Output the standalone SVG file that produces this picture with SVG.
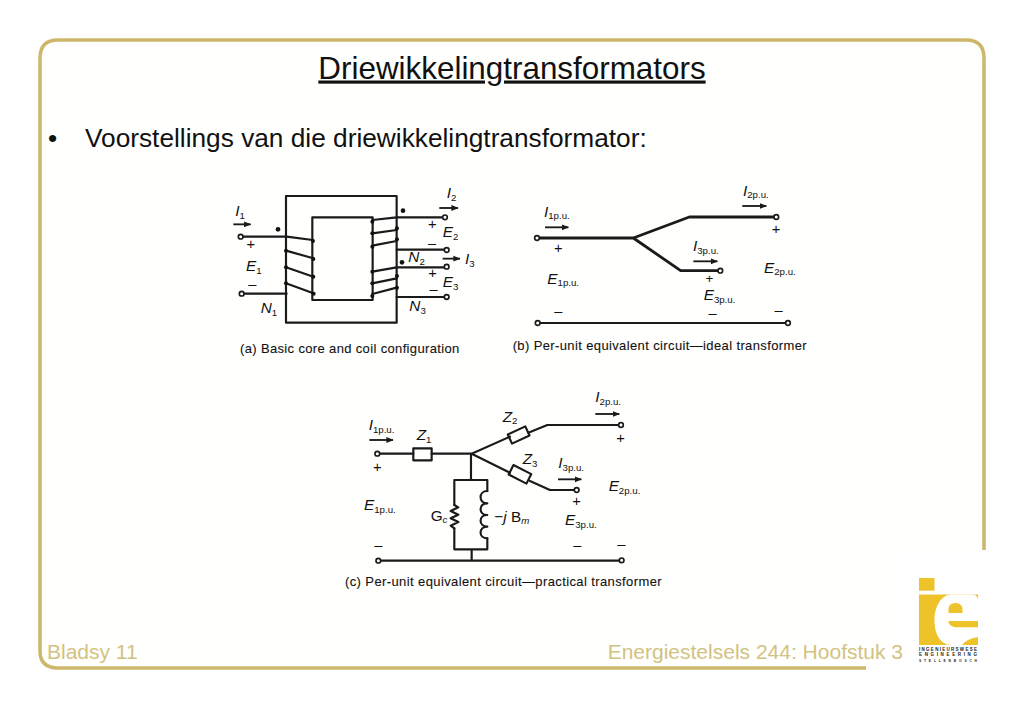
<svg xmlns="http://www.w3.org/2000/svg" width="1023" height="708" viewBox="0 0 1023 708">
<style>
text{font-family:"Liberation Sans",Arial,sans-serif;fill:#111}
.w{fill:none;stroke:#1a1a1a;stroke-width:6.500;stroke-linejoin:round;stroke-linecap:round}
.h{fill:none;stroke:#1a1a1a;stroke-width:8.500;stroke-linejoin:round}
.t{fill:#fff;stroke:#1a1a1a;stroke-width:5}
.a{fill:none;stroke:#1a1a1a;stroke-width:5.500;marker-end:url(#ah)}
.l{font-size:46px;font-style:italic}
.s{font-size:29px;font-style:normal}
.m{font-size:44px}
.c{font-size:39px;stroke:#111;stroke-width:.3}
.f{font-size:21px;fill:#d2c282}
.y{fill:#eec32a}
.k{font-weight:bold;fill:#222}
</style>
<defs>
<marker id="ah" viewBox="0 0 10 10" refX="9" refY="5" markerWidth="4" markerHeight="4" orient="auto"><path d="M0 1L10 5L0 9z" fill="#1a1a1a"/></marker>
</defs>
<rect width="1023" height="708" fill="#fff"/>
<g id="frame">
<path d="M984 550V58Q984 40 966 40H58Q40 40 40 58V651Q40 668 58 668H866" fill="#fffffd" stroke="#cdb76b" stroke-width="3.500"/>
<rect x="905" y="551" width="118" height="130" fill="#fff"/>
</g>
<g id="title"><text x="512" y="78.500" text-anchor="middle" font-size="31.400" style="text-decoration:underline">Driewikkelingtransformators</text></g>
<g id="bullet"><text x="48" y="147" font-size="26.250">•</text><text x="85" y="147" font-size="26.250">Voorstellings van die driewikkelingtransformator:</text></g>

<g id="fig-a" transform="translate(220 180) scale(.3333)">
<g id="core-a"><rect x="198" y="48" width="332" height="380" class="w"/><rect x="277" y="112" width="181" height="248" class="w"/></g>
<g id="coils-a" class="connectors">
<path class="w" d="M68 170H200L278 180M198 212L280 235M198 262L280 290M198 310L280 340M72 341H200"/>
<path class="w" d="M457 120L530 112H668M457 160L530 150M457 197L530 183M530 209H674M457 275L530 262H674M457 310L530 295M457 342L530 323M530 351H674"/>
<g fill="#111"><circle cx="174" cy="148" r="7"/><circle cx="549" cy="92" r="7"/><circle cx="546" cy="247" r="7"/><circle cx="198" cy="212" r="6"/><circle cx="198" cy="262" r="6"/><circle cx="198" cy="310" r="6"/><circle cx="279" cy="183" r="6"/><circle cx="280" cy="237" r="6"/><circle cx="280" cy="290" r="6"/><circle cx="281" cy="341" r="6"/><circle cx="457" cy="125" r="6"/><circle cx="457" cy="160" r="6"/><circle cx="457" cy="200" r="6"/><circle cx="457" cy="275" r="6"/><circle cx="457" cy="310" r="6"/><circle cx="457" cy="348" r="6"/><circle cx="531" cy="145" r="6"/><circle cx="531" cy="178" r="6"/><circle cx="531" cy="288" r="6"/><circle cx="531" cy="323" r="6"/></g>
<circle class="t" cx="62" cy="170" r="7"/><circle class="t" cx="65" cy="341" r="7"/><circle class="t" cx="675" cy="112" r="7"/><circle class="t" cx="680" cy="210" r="7"/><circle class="t" cx="680" cy="260" r="7"/><circle class="t" cx="680" cy="351" r="7"/>
<path class="a" d="M40 133H92"/><path class="a" d="M658 84H714"/><path class="a" d="M668 236H720"/>
</g>
<g id="labels-a">
<text class="l" x="46" y="108">I<tspan class="s" dy="8">1</tspan></text>
<text class="l" x="78" y="274">E<tspan class="s" dy="8">1</tspan></text>
<text class="l" x="122" y="400">N<tspan class="s" dy="8">1</tspan></text>
<text class="l" x="680" y="54">I<tspan class="s" dy="8">2</tspan></text>
<text class="l" x="668" y="172">E<tspan class="s" dy="8">2</tspan></text>
<text class="l" x="565" y="247">N<tspan class="s" dy="8">2</tspan></text>
<text class="l" x="735" y="252">I<tspan class="s" dy="8">3</tspan></text>
<text class="l" x="668" y="322">E<tspan class="s" dy="8">3</tspan></text>
<text class="l" x="568" y="394">N<tspan class="s" dy="8">3</tspan></text>
<text class="m" x="92" y="206" text-anchor="middle">+</text><text class="m" x="637" y="146" text-anchor="middle">+</text><text class="m" x="638" y="294" text-anchor="middle">+</text>
<text class="m" x="97" y="328" text-anchor="middle">–</text><text class="m" x="636" y="203" text-anchor="middle">–</text><text class="m" x="641" y="341" text-anchor="middle">–</text>
<text class="c" x="60" y="518" textLength="658">(a)  Basic core and coil configuration</text>
</g>
</g>

<g id="fig-b" transform="translate(500 175) scale(.3333)">
<g id="wires-b" class="connectors">
<path class="h" d="M117 189H400L568 126H822M400 189L542 287H654"/>
<path class="w" d="M119 444H858"/>
<circle class="t" cx="111" cy="189" r="7"/><circle class="t" cx="829" cy="126" r="7"/><circle class="t" cx="661" cy="287" r="7"/><circle class="t" cx="113" cy="444" r="7"/><circle class="t" cx="864" cy="444" r="7"/>
<path class="a" d="M135 157H205"/><path class="a" d="M727 93H799"/><path class="a" d="M580 259H652"/>
</g>
<g id="labels-b">
<text class="l" x="132" y="125">I<tspan class="s" dy="8">1p.u.</tspan></text>
<text class="l" x="729" y="62">I<tspan class="s" dy="8">2p.u.</tspan></text>
<text class="l" x="579" y="228">I<tspan class="s" dy="8">3p.u.</tspan></text>
<text class="l" x="142" y="326">E<tspan class="s" dy="8">1p.u.</tspan></text>
<text class="l" x="792" y="293">E<tspan class="s" dy="8">2p.u.</tspan></text>
<text class="l" x="611" y="376">E<tspan class="s" dy="8">3p.u.</tspan></text>
<text class="m" x="175" y="234" text-anchor="middle">+</text><text class="m" x="828" y="176" text-anchor="middle">+</text><text class="m" x="628" y="325" text-anchor="middle" style="font-size:40px">+</text>
<text class="m" x="175" y="423" text-anchor="middle">–</text><text class="m" x="638" y="429" text-anchor="middle">–</text><text class="m" x="836" y="419" text-anchor="middle">–</text>
<text class="c" x="38" y="525" textLength="882">(b)  Per-unit equivalent circuit—ideal transformer</text>
</g>
</g>

<g id="fig-c" transform="translate(330 385) scale(.3333)">
<g id="wires-c" class="connectors">
<path class="w" d="M149 206H250M305 206H425L540 155M595 143L652 120H866M425 206L540 263M600 288L660 315H733M423 206V285"/>
<path class="w" d="M373 360V285H472V318M472 460V493H373V430M425 493V526M151 527H869"/>
<path class="w" d="M373 360L385 367L362 378L385 389L362 400L385 411L362 422L373 430"/>
<path class="w" d="M472 318C445 318 445 355 472 355C445 355 445 390 472 390C445 390 445 425 472 425C445 425 445 460 472 460"/>
<circle class="t" cx="142" cy="206" r="7"/><circle class="t" cx="873" cy="120" r="7"/><circle class="t" cx="740" cy="315" r="7"/><circle class="t" cx="145" cy="527" r="7"/><circle class="t" cx="875" cy="526" r="7"/>
<path class="a" d="M118 165H189"/><path class="a" d="M796 87H868"/><path class="a" d="M684 283H754"/>
</g>
<g id="Z1"><rect class="w" x="250" y="190" width="55" height="36"/></g>
<g id="Z2"><rect class="w" x="-29" y="-15" width="58" height="30" transform="translate(566 150) rotate(-25)"/></g>
<g id="Z3"><rect class="w" x="-30" y="-16" width="60" height="32" transform="translate(570 268) rotate(27)"/></g>
<g id="labels-c">
<text class="l" x="116" y="135">I<tspan class="s" dy="8">1p.u.</tspan></text>
<text class="l" x="796" y="52">I<tspan class="s" dy="8">2p.u.</tspan></text>
<text class="l" x="685" y="250">I<tspan class="s" dy="8">3p.u.</tspan></text>
<text class="l" x="260" y="165">Z<tspan class="s" dy="8">1</tspan></text>
<text class="l" x="518" y="110">Z<tspan class="s" dy="8">2</tspan></text>
<text class="l" x="578" y="238">Z<tspan class="s" dy="8">3</tspan></text>
<text class="l" x="102" y="376">E<tspan class="s" dy="8">1p.u.</tspan></text>
<text class="l" x="836" y="318">E<tspan class="s" dy="8">2p.u.</tspan></text>
<text class="l" x="705" y="420">E<tspan class="s" dy="8">3p.u.</tspan></text>
<text class="l" x="302" y="407" style="font-style:normal">G<tspan class="s" dy="6" style="font-style:italic">c</tspan></text>
<text class="l" x="493" y="410"><tspan style="font-style:normal">−</tspan>j <tspan style="font-style:normal">B</tspan><tspan class="s" dy="6" style="font-style:italic">m</tspan></text>
<text class="m" x="142" y="262" text-anchor="middle">+</text><text class="m" x="872" y="174" text-anchor="middle">+</text><text class="m" x="740" y="364" text-anchor="middle">+</text>
<text class="m" x="145" y="495" text-anchor="middle">–</text><text class="m" x="742" y="495" text-anchor="middle">–</text><text class="m" x="874" y="493" text-anchor="middle">–</text>
<text class="c" x="45" y="603" textLength="950">(c)  Per-unit equivalent circuit—practical transformer</text>
</g>
</g>

<g id="footer"><text class="f" x="47" y="659">Bladsy 11</text><text class="f" x="903" y="659" text-anchor="end">Energiestelsels 244: Hoofstuk 3</text></g>
<g id="logo">
<rect class="y" x="919" y="578" width="15.500" height="12.700"/>
<rect class="y" x="919" y="594.500" width="59" height="50.500"/>
<path d="M973 594.500H950C940 596 934.500 608 934.500 620C934.500 634 940 645 952 645H962C966 640 972 638 978 637V600Q977 594.500 973 594.500Z" fill="#fff"/>
<path class="y" d="M948.500 613V609C948.500 605 952 603 955.500 603C960 603 962.500 606 962.500 609V613Z"/>
<path class="y" d="M948.500 621H978V627.300H958C952 627.300 948.500 625 948.500 621Z"/>
<text class="k" x="919" y="650.500" font-size="4.500" textLength="58">INGENIEURSWESE</text>
<text class="k" x="919" y="655.500" font-size="4.500" textLength="58">ENGINEERING</text>
<text class="k" x="919" y="661.500" font-size="3.300" textLength="58">STELLENBOSCH</text>
</g>
</svg>
